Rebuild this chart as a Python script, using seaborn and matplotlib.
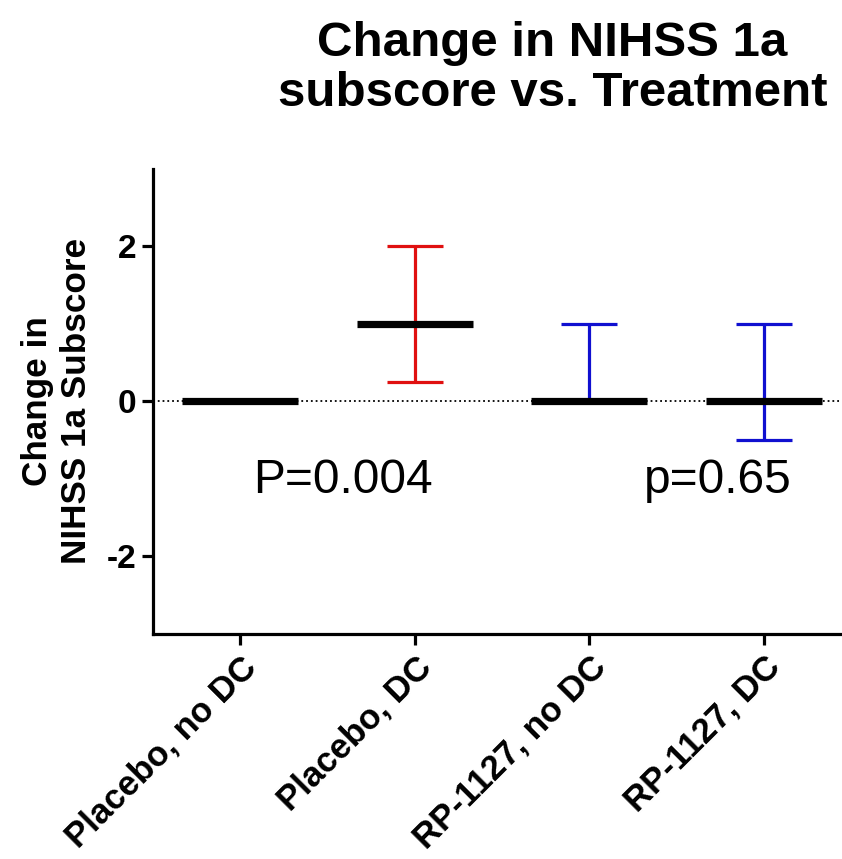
import pandas as pd
import numpy as np
import matplotlib.pyplot as plt
import seaborn as sns

sns.set_style('ticks')
plt.rcParams['font.family'] = ['Liberation Sans', 'DejaVu Sans']
plt.rcParams['axes.unicode_minus'] = False
plt.rcParams['text.color'] = 'black'
plt.rcParams['xtick.color'] = 'black'
plt.rcParams['ytick.color'] = 'black'
plt.rcParams['axes.labelcolor'] = 'black'
plt.rcParams['axes.edgecolor'] = 'black'

# dados
groups = ['Placebo, no DC', 'Placebo, DC', 'RP-1127, no DC', 'RP-1127, DC']
medians = [0, 1, 0, 0]
err_low = [np.nan, 0.25, 0, -0.5]
err_high = [np.nan, 2, 1, 1]
err_colors = ['black', '#e01010', '#1010d0', '#1010d0']
p_labels = ['P=0.004', 'p=0.65']
p_x = [0.59, 2.74]
p_y = [-1.02, -1.02]

df = pd.DataFrame({'group': groups, 'median': medians,
                   'low': err_low, 'high': err_high})

fig = plt.figure(figsize=(8.42, 8.59), dpi=100)
ax = fig.add_axes([0.1817, 0.2625, 0.8183, 0.5413])

# linha pontilhada no zero
ax.axhline(0, color='black', linestyle=':', linewidth=1.3, zorder=1)

# barras de erro
for i, row in df.iterrows():
    if np.isnan(row['low']):
        continue
    ax.errorbar(i, row['median'],
                yerr=[[row['median'] - row['low']], [row['high'] - row['median']]],
                fmt='none', ecolor=err_colors[i], elinewidth=2.3,
                capsize=20.5, capthick=2.3, zorder=2)

# medianas
sns.scatterplot(data=df, x='group', y='median', marker='_', s=83**2,
                linewidth=5.2, color='black', ax=ax, zorder=3, legend=False)

for lab, x, y in zip(p_labels, p_x, p_y):
    ax.text(x, y, lab, fontsize=34.5, ha='center', va='center')

ax.set_xlim(-0.5, 3.45)
ax.set_ylim(-3, 3)
ax.set_yticks([-2, 0, 2])
ax.set_xticks(range(len(groups)))
ax.set_xticklabels(groups, rotation=45, ha='right', rotation_mode='anchor',
                   fontsize=25, fontweight='bold')
plt.yticks(fontsize=24, fontweight='bold')
ax.tick_params(axis='both', width=2.3, length=8, pad=4)
ax.set_xlabel('')
ax.set_ylabel('Change in\nNIHSS 1a Subscore', fontsize=25.3, fontweight='bold',
              labelpad=10)
ax.set_title('Change in NIHSS 1a\nsubscore vs. Treatment', fontsize=35.5,
             fontweight='bold', pad=45, x=0.58, linespacing=1.15)

sns.despine(ax=ax)
ax.spines['left'].set_linewidth(2.3)
ax.spines['bottom'].set_linewidth(2.3)

fig.savefig('out.png', dpi=100, facecolor='white')
